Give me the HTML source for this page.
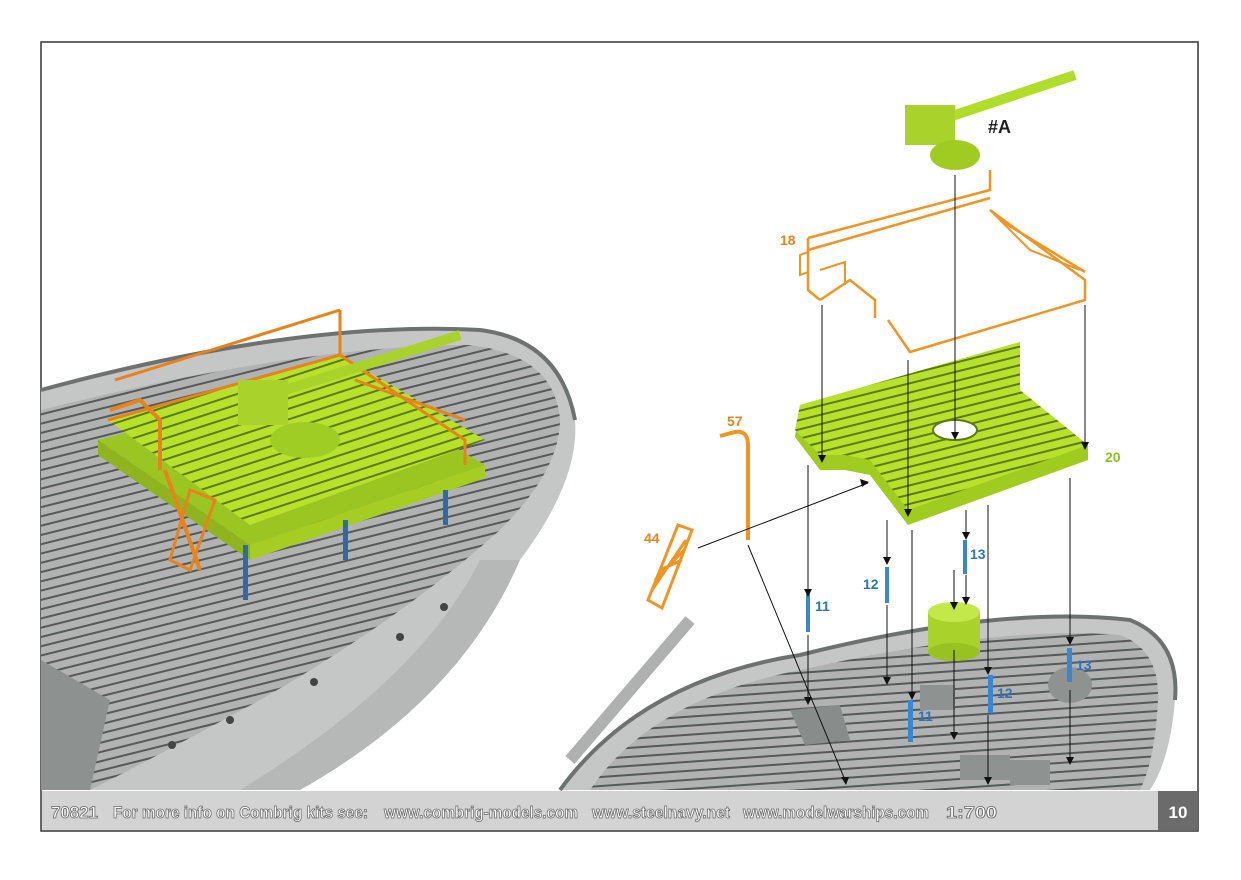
<!DOCTYPE html>
<html><head><meta charset="utf-8"><style>
body{margin:0;background:#fff;width:1241px;height:875px;overflow:hidden;font-family:"Liberation Sans",sans-serif}
</style></head><body>
<svg width="1241" height="875" viewBox="0 0 1241 875" xmlns="http://www.w3.org/2000/svg">
<defs>
<pattern id="deck" width="14" height="9" patternUnits="userSpaceOnUse" patternTransform="rotate(-14)">
<rect width="14" height="9" fill="#b0b3b2"/><rect y="6" width="14" height="2" fill="#555a59"/>
</pattern>
<pattern id="deck2" width="14" height="9" patternUnits="userSpaceOnUse" patternTransform="rotate(-4)">
<rect width="14" height="9" fill="#b0b3b2"/><rect y="6" width="14" height="2" fill="#555a59"/>
</pattern>
<pattern id="green" width="10" height="10" patternUnits="userSpaceOnUse" patternTransform="rotate(-18)">
<rect width="10" height="10" fill="#b7e12a"/><rect y="7" width="10" height="2" fill="#5d7a10"/>
</pattern>
<pattern id="green2" width="10" height="9" patternUnits="userSpaceOnUse" patternTransform="rotate(-14)">
<rect width="10" height="9" fill="#b7e12a"/><rect y="6" width="10" height="2" fill="#5d7a10"/>
</pattern>
</defs>
<rect x="41" y="42" width="1157" height="789" fill="#fff" stroke="#333" stroke-width="1.5"/>
<!-- left ship hull -->
<path d="M41 390 Q300 320 480 330 Q560 340 575 420 Q580 480 520 560 Q420 700 240 790 L41 790 Z" fill="#c4c7c6"/>
<path d="M41 410 Q300 345 470 345 Q555 355 560 420 Q560 470 500 530 Q400 620 260 700 Q150 760 90 790 L41 790 Z" fill="url(#deck)"/>
<path d="M41 390 Q300 320 480 330 Q560 340 575 420" fill="none" stroke="#6d7271" stroke-width="4"/>
<path d="M480 560 Q420 680 240 790 L300 790 Q460 700 520 560 Z" fill="#b5b8b7"/>
<circle cx="400" cy="637" r="4" fill="#444"/><circle cx="314" cy="682" r="4" fill="#444"/><circle cx="230" cy="720" r="4" fill="#444"/><circle cx="172" cy="745" r="4" fill="#444"/><circle cx="444" cy="607" r="4" fill="#444"/>
<path d="M41 660 L110 700 L90 790 L41 790 Z" fill="#8d9190"/>
<!-- left platform -->
<path d="M98 440 L340 380 L485 465 L250 545 Z" fill="#9bc520"/>
<path d="M108 420 L340 355 L485 440 L250 525 Z" fill="url(#green)"/>
<path d="M98 440 L250 545 L250 560 L98 455 Z" fill="#8fb41d"/>
<path d="M250 545 L485 465 L485 478 L250 560 Z" fill="#a6cd22"/>
<path d="M108 420 L340 355 L340 310 M115 380 L340 310 M340 355 L465 440 L465 465 M355 380 L465 420" fill="none" stroke="#e8821a" stroke-width="3"/>
<path d="M110 410 L140 400 L160 420 L160 470 M165 470 L200 570" fill="none" stroke="#e8821a" stroke-width="4"/>
<path d="M190 490 L215 500 L190 570 L170 560 Z" fill="none" stroke="#e8821a" stroke-width="3"/>
<rect x="243" y="545" width="5" height="55" fill="#2c6aa8"/><rect x="343" y="520" width="5" height="40" fill="#2c6aa8"/><rect x="443" y="490" width="5" height="35" fill="#2c6aa8"/>
<ellipse cx="305" cy="440" rx="35" ry="18" fill="#9fcd23"/>
<rect x="238" y="380" width="50" height="45" fill="#a9d32b"/>
<path d="M285 390 L460 335" stroke="#a9d32b" stroke-width="10"/>
<!-- right ship -->
<path d="M560 790 Q640 680 800 655 Q1000 605 1130 620 Q1180 640 1175 700 Q1170 760 1150 790 Z" fill="#c4c7c6"/>
<path d="M590 790 Q650 700 800 670 Q1000 625 1120 635 Q1160 650 1158 700 Q1155 760 1140 790 Z" fill="url(#deck2)"/>
<path d="M560 790 Q640 680 800 655 Q1000 605 1130 620 Q1180 640 1175 700" fill="none" stroke="#6d7271" stroke-width="4"/>
<path d="M570 760 L690 620" stroke="#aeb1b0" stroke-width="12"/>
<path d="M790 710 L840 705 L850 740 L805 745 Z" fill="#888c8b"/>
<rect x="920" y="685" width="35" height="25" fill="#8e9291"/><rect x="960" y="755" width="50" height="25" fill="#8e9291"/><rect x="1010" y="760" width="40" height="25" fill="#8e9291"/>
<ellipse cx="1070" cy="685" rx="22" ry="18" fill="#8e9291"/>
<!-- gun #A -->
<path d="M940 120 L1075 75" stroke="#b0dd2a" stroke-width="10"/>
<rect x="905" y="105" width="50" height="40" fill="#a9d32b"/>
<ellipse cx="955" cy="155" rx="25" ry="15" fill="#a0cc22"/>
<text x="988" y="133" font-size="18" font-weight="bold" fill="#222">#A</text>
<!-- part 18 -->
<path d="M808 238 L990 190 L990 170 M808 238 L808 290 L820 300 M820 300 L850 280 L875 300 L875 318 M990 210 L1085 280 L1085 300 L910 352 L888 320 M808 250 L990 198 M1000 220 L1085 272" fill="none" stroke="#f09423" stroke-width="2.5"/>
<path d="M800 255 L808 252 L808 272 L800 275 Z M820 270 L845 262 L845 285 M990 210 L1030 250 L1080 270" fill="none" stroke="#f09423" stroke-width="2"/>
<text x="780" y="245" font-size="14" font-weight="bold" fill="#e8821a">18</text>
<!-- part 20 -->
<path d="M800 405 L1020 342 L1020 400 L1088 445 L1088 460 L908 525 L870 475 L845 470 L820 470 L795 437 Z" fill="#9fcc1f"/>
<path d="M800 405 L1020 342 L1020 390 L1088 445 L908 510 L870 460 L845 455 L820 455 L795 430 Z" fill="url(#green2)"/>
<ellipse cx="955" cy="430" rx="22" ry="10" fill="#fff" stroke="#5d7a10" stroke-width="2"/>
<text x="1105" y="462" font-size="14" font-weight="bold" fill="#8cc31e">20</text>
<!-- 57 -->
<path d="M748 540 L748 445 Q748 430 735 432 L720 436" fill="none" stroke="#f09423" stroke-width="4"/>
<text x="727" y="426" font-size="14" font-weight="bold" fill="#e8821a">57</text>
<!-- 44 -->
<path d="M648 600 L678 525 L692 530 L662 608 Z M652 590 L686 540 M655 580 L684 550 M660 570 L682 560" fill="none" stroke="#f09423" stroke-width="3"/>
<text x="644" y="543" font-size="14" font-weight="bold" fill="#e8821a">44</text>
<!-- green cylinder -->
<rect x="928" y="612" width="52" height="40" fill="#a9d32b"/><ellipse cx="954" cy="652" rx="26" ry="9" fill="#98c21f"/><ellipse cx="954" cy="612" rx="26" ry="10" fill="#c3e84a"/>
<!-- blue parts -->
<g fill="#3a86cf"><rect x="806" y="594" width="4" height="38"/><rect x="885" y="567" width="4" height="36"/><rect x="963" y="540" width="4" height="34"/><rect x="908" y="700" width="5" height="42"/><rect x="988" y="675" width="5" height="38"/><rect x="1067" y="648" width="5" height="34"/></g>
<g font-size="14" font-weight="bold" fill="#2b74bd"><text x="815" y="611">11</text><text x="863" y="589">12</text><text x="970" y="559">13</text><text x="918" y="721">11</text><text x="997" y="698">12</text><text x="1076" y="670">13</text></g>
<!-- arrows -->
<g stroke="#111" stroke-width="1" fill="none">
<path d="M955 175 V435 M822 305 V458 M1085 305 V445 M908 360 V512 M887 520 V560 M966 510 V535 M966 575 V600 M1070 478 V640 M988 505 V670 M912 530 V695 M808 465 V592 M954 570 V605 M954 650 V735 M988 715 V780 M1070 690 V760 M887 605 V680 M808 635 V700 M748 545 L845 780 M698 548 L868 483"/>
</g>
<g fill="#111"><path d="M951 432 l4 8 l4 -8z M818 455 l4 8 l4 -8z M1081 442 l4 8 l4 -8z M904 509 l4 8 l4 -8z M883 557 l4 8 l4 -8z M962 532 l4 8 l4 -8z M962 597 l4 8 l4 -8z M1066 637 l4 8 l4 -8z M984 667 l4 8 l4 -8z M908 692 l4 8 l4 -8z M804 589 l4 8 l4 -8z M950 602 l4 8 l4 -8z M950 732 l4 8 l4 -8z M984 777 l4 8 l4 -8z M1066 757 l4 8 l4 -8z M883 677 l4 8 l4 -8z M804 697 l4 8 l4 -8z M841 777 l5 8 l3 -8z M860 479 l9 3 l-7 5z"/></g>
<!-- footer -->
<rect x="42" y="791" width="1155" height="39" fill="#d3d3d3"/>
<rect x="1158" y="791" width="39" height="39" fill="#6b6b6b"/>
<text x="1178" y="818" font-size="17" font-weight="bold" fill="#fff" text-anchor="middle">10</text>
<g font-size="17" font-weight="bold" fill="#fff" stroke="#666" stroke-width="0.8">
<text x="51" y="818" textLength="47" lengthAdjust="spacingAndGlyphs">70821</text>
<text x="113" y="818" textLength="255" lengthAdjust="spacingAndGlyphs">For more info on Combrig kits see:</text>
<text x="384" y="818" textLength="194" lengthAdjust="spacingAndGlyphs">www.combrig-models.com</text>
<text x="592" y="818" textLength="138" lengthAdjust="spacingAndGlyphs">www.steelnavy.net</text>
<text x="743" y="818" textLength="186" lengthAdjust="spacingAndGlyphs">www.modelwarships.com</text>
<text x="946" y="818" textLength="51" lengthAdjust="spacingAndGlyphs">1:700</text>
</g>
</svg>
</body></html>
